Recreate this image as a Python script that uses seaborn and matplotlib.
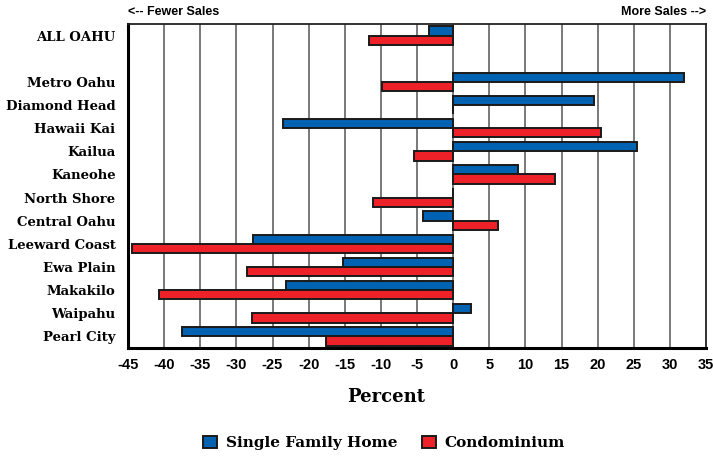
import numpy as np
import pandas as pd
import matplotlib
matplotlib.use("Agg")
import matplotlib.pyplot as plt
import seaborn as sns
from matplotlib.ticker import FixedLocator

# Regions (blank entry leaves a gap below the island total)
regions = ["ALL OAHU", "", "Metro Oahu", "Diamond Head", "Hawaii Kai", "Kailua",
           "Kaneohe", "North Shore", "Central Oahu", "Leeward Coast", "Ewa Plain",
           "Makakilo", "Waipahu", "Pearl City"]
# Percent change in sales by region
single_family = [-3.4, np.nan, 32.0, 19.5, -23.5, 25.4, 9.0, 0.0, -4.2, -27.7, -15.3, -23.2, 2.5, -37.5]
condominium = [-11.6, np.nan, -9.9, 0.0, 20.5, -5.4, 14.1, -11.1, 6.2, -44.4, -28.5, -40.7, -27.9, -17.6]
series_names = ["Single Family Home", "Condominium"]
x_ticks = list(range(-45, 40, 5))

df = pd.DataFrame({
    "Region": regions * 2,
    "Percent": single_family + condominium,
    "Type": [series_names[0]] * len(regions) + [series_names[1]] * len(regions),
})

sns.set_style("white")
plt.rcParams["text.color"] = "black"
plt.rcParams["xtick.color"] = "black"
plt.rcParams["ytick.color"] = "black"

fig = plt.figure(figsize=(7.13, 4.58), dpi=100)
ax = fig.add_axes([128 / 713, 1 - 348 / 458, (706 - 128) / 713, (348 - 24) / 458])

palette = {"Single Family Home": "#0062b0", "Condominium": "#ee2128"}
sns.barplot(data=df, y="Region", x="Percent", hue="Type", order=regions,
            hue_order=series_names, palette=palette, orient="h", errorbar=None,
            width=0.8, edgecolor="#1a1a1a", linewidth=1.4, saturation=1,
            ax=ax, legend=True, zorder=3)

ax.set_xlim(-45, 35)
ax.set_ylim(len(regions) - 0.5, -0.5)
ax.set_xticks(x_ticks)
ax.set_xticklabels([str(t) for t in x_ticks], fontfamily="Liberation Sans",
                   fontweight="bold", fontsize=10.5, color="black")
ax.tick_params(axis="x", length=0, pad=7)

serif = "DejaVu Serif"
ax.set_yticks(range(len(regions)))
ax.set_yticklabels(regions, fontfamily=serif, fontweight="bold", fontsize=9.5, color="black")
ax.tick_params(axis="y", which="major", length=0, pad=9)
ax.yaxis.set_minor_locator(FixedLocator(np.arange(0.5, len(regions) - 1, 1.0)))
ax.tick_params(axis="y", which="minor", direction="in", length=6, width=1.2, color="#666666")

for t in x_ticks[1:-1]:
    ax.axvline(t, color="#555555", linewidth=1.1, zorder=1)

for side in ["left", "bottom"]:
    ax.spines[side].set_linewidth(2.2)
    ax.spines[side].set_color("black")
for side in ["top", "right"]:
    ax.spines[side].set_linewidth(1.3)
    ax.spines[side].set_color("#222222")
    ax.spines[side].set_visible(True)

ax.set_xlabel("")
ax.set_ylabel("")

fig.text(386 / 713, 1 - 397 / 458, "Percent", ha="center", va="center",
         fontfamily=serif, fontweight="bold", fontsize=13, color="black")
fig.text(128 / 713, 1 - 12 / 458, "<-- Fewer Sales", ha="left", va="center",
         fontfamily="Liberation Sans", fontweight="bold", fontsize=9, color="black")
fig.text(706 / 713, 1 - 12 / 458, "More Sales -->", ha="right", va="center",
         fontfamily="Liberation Sans", fontweight="bold", fontsize=9, color="black")

handles, labels = ax.get_legend_handles_labels()
ax.get_legend().remove()
leg = fig.legend(handles, labels, loc="center", bbox_to_anchor=(384 / 713, 1 - 443 / 458),
                 ncol=2, frameon=False, handlelength=0.9, handleheight=0.9,
                 handletextpad=0.6, columnspacing=1.6,
                 prop={"family": serif, "weight": "bold", "size": 11})
for txt in leg.get_texts():
    txt.set_color("black")

fig.savefig("out.png", dpi=100)
